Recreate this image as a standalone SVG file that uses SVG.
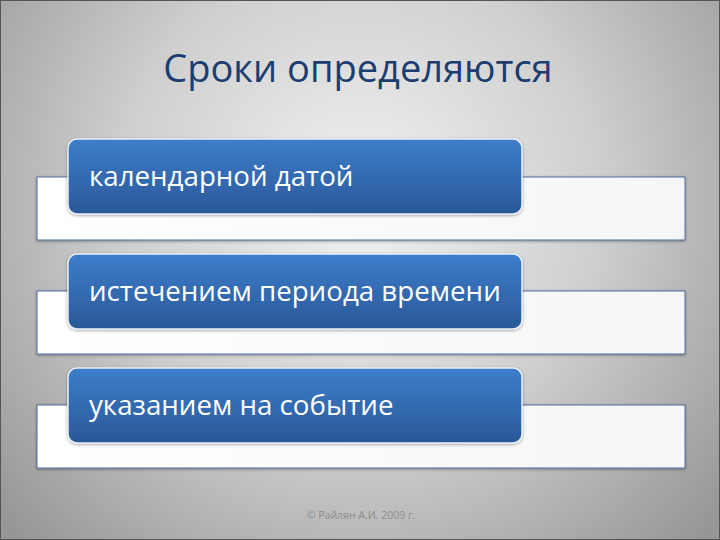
<svg xmlns="http://www.w3.org/2000/svg" width="720" height="540" viewBox="0 0 720 540">
<defs>
<radialGradient id="bg" cx="360" cy="200" r="480" gradientUnits="userSpaceOnUse">
<stop offset="0" stop-color="#f2f2f2"/>
<stop offset="0.5" stop-color="#cfcfcf"/>
<stop offset="1" stop-color="#969696"/>
</radialGradient>
<linearGradient id="blue" x1="0" y1="0" x2="0" y2="1">
<stop offset="0" stop-color="#3d7ecb"/>
<stop offset="1" stop-color="#2a5898"/>
</linearGradient>
<linearGradient id="white" x1="0" y1="0" x2="1" y2="0">
<stop offset="0" stop-color="#ffffff"/>
<stop offset="1" stop-color="#f6f6f6"/>
</linearGradient>
<filter id="sh" x="-5%" y="-10%" width="110%" height="130%">
<feDropShadow dx="0" dy="1" stdDeviation="1.5" flood-color="#000" flood-opacity="0.35"/>
</filter>
</defs>
<style>
.back{fill:url(#white);stroke:#4f6f9a;stroke-width:1}
.front{fill:url(#blue);stroke:#e8f0fa;stroke-width:1.5}
.lbl{font-family:"Open Sans","Liberation Sans",sans-serif;font-size:27.7px;fill:#ffffff}
.title{font-family:"Open Sans","Liberation Sans",sans-serif;font-size:38px;fill:#1c3d70}
.foot{font-family:"Open Sans","Liberation Sans",sans-serif;font-size:10.5px;fill:#8c8c8c}
</style>
<rect x="0" y="0" width="720" height="540" fill="url(#bg)"/>
<rect x="0.5" y="0.5" width="719" height="539" fill="none" stroke="#555" stroke-width="1"/>
<text class="title" x="358" y="82" text-anchor="middle">Сроки определяются</text>
<g id="node1">
<rect class="back" x="37" y="177" width="648" height="63" filter="url(#sh)"/>
<rect class="front" x="68" y="139" width="454" height="75" rx="9" filter="url(#sh)"/>
<text class="lbl" x="89" y="186">календарной датой</text>
</g>
<g id="node2">
<rect class="back" x="37" y="291" width="648" height="63" filter="url(#sh)"/>
<rect class="front" x="68" y="254" width="454" height="75" rx="9" filter="url(#sh)"/>
<text class="lbl" x="89" y="301">истечением периода времени</text>
</g>
<g id="node3">
<rect class="back" x="37" y="405" width="648" height="63" filter="url(#sh)"/>
<rect class="front" x="68" y="368" width="454" height="75" rx="9" filter="url(#sh)"/>
<text class="lbl" x="89" y="415">указанием на событие</text>
</g>
<g id="connectors"/>
<text class="foot" x="361" y="519" text-anchor="middle">© Райлян А.И. 2009 г.</text>
</svg>
